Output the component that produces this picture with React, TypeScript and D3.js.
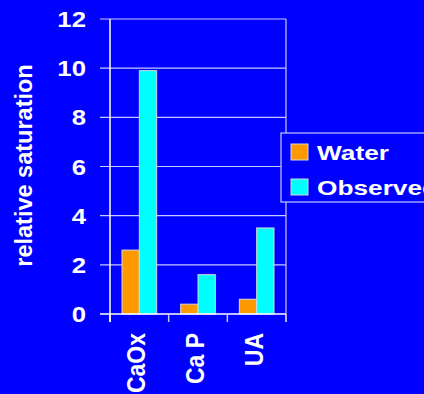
import React from "react";
import * as d3 from "d3";

const categories = ["CaOx", "Ca P", "UA"];
const seriesNames = ["Water", "Observed"];
const waterValues = [2.6, 0.4, 0.6];
const observedValues = [9.9, 1.6, 3.5];
const yTicks = [0, 2, 4, 6, 8, 10, 12];
const colors = ["#FF9900", "#00FFFF"];

const W = 424;
const H = 394;
const BG = "#0000FF";
const GRID = "#C8C8FF";
const FONT = "Arial, 'Liberation Sans', Helvetica, sans-serif";

export default function App() {
  const left = 110, right = 286, top = 19, bottom = 314;
  const y = d3.scaleLinear().domain([0, 12]).range([bottom, top]);
  const x = d3.scaleBand<string>().domain(categories).range([left, right]).paddingInner(0).paddingOuter(0);
  const bw = x.bandwidth();
  const x1 = d3.scaleBand<string>().domain(seriesNames).range([12, bw - 12]).padding(0);
  const values = [waterValues, observedValues];
  const bandEdges = [...categories.map((c) => x(c) as number), right];

  return (
    <svg width={W} height={H} style={{ position: "absolute", left: 0, top: 0, display: "block" }}>
      <rect x={0} y={0} width={W} height={H} fill={BG} />
      {/* gridlines */}
      {yTicks.filter((t) => t > 0).map((t) => (
        <line key={"g" + t} x1={left - 10} x2={right} y1={y(t)} y2={y(t)} stroke={GRID} strokeWidth={1.2} />
      ))}
      {/* right border */}
      <line x1={right} x2={right} y1={top} y2={bottom + 8} stroke={GRID} strokeWidth={1.2} />
      {/* bars */}
      {categories.map((c, i) =>
        seriesNames.map((s, j) => {
          const v = values[j][i];
          return (
            <rect
              key={c + s}
              x={(x(c) as number) + (x1(s) as number)}
              y={y(v)}
              width={x1.bandwidth()}
              height={y(0) - y(v)}
              fill={colors[j]}
              stroke="#D8D8D8"
              strokeWidth={1}
            />
          );
        })
      )}
      {/* axes */}
      <line x1={left} x2={left} y1={top} y2={bottom + 8} stroke="#FFFFFF" strokeWidth={1.5} />
      <line x1={left - 10} x2={right} y1={bottom} y2={bottom} stroke="#FFFFFF" strokeWidth={1.5} />
      {bandEdges.map((e, i) => (
        <line key={"t" + i} x1={e} x2={e} y1={bottom} y2={bottom + 8} stroke={i === 0 ? "#FFFFFF" : GRID} strokeWidth={1.5} />
      ))}
      {/* y tick labels */}
      {yTicks.map((t) => (
        <g key={"l" + t} transform={`translate(86,${y(t) + 8}) scale(1.17,1)`}>
          <text textAnchor="end" fontFamily={FONT} fontWeight="bold" fontSize={22} fill="#FFFFFF">
            {t}
          </text>
        </g>
      ))}
      {/* y axis title */}
      <text
        transform={`translate(32,${(63 + 268) / 2}) rotate(-90)`}
        textAnchor="middle"
        fontFamily={FONT}
        fontWeight="bold"
        fontSize={23.5}
        fill="#FFFFFF"
      >
        relative saturation
      </text>
      {/* category labels */}
      {categories.map((c) => (
        <g key={"c" + c} transform={`translate(${(x(c) as number) + bw / 2 + 6},333) rotate(-90) scale(1,1.1)`}>
          <text textAnchor="end" fontFamily={FONT} fontWeight="bold" fontSize={23} fill="#FFFFFF">
            {c}
          </text>
        </g>
      ))}
      {/* legend */}
      <rect x={281} y={133} width={160} height={69} fill={BG} stroke={GRID} strokeWidth={1.2} />
      {seriesNames.map((s, j) => (
        <g key={"lg" + s}>
          <rect x={291} y={144 + j * 35} width={17} height={16} fill={colors[j]} stroke="#D8D8D8" strokeWidth={1} />
          <g transform={`translate(317,${160 + j * 35}) scale(1.25,1)`}>
            <text fontFamily={FONT} fontWeight="bold" fontSize={21} fill="#FFFFFF">
              {s}
            </text>
          </g>
        </g>
      ))}
    </svg>
  );
}
